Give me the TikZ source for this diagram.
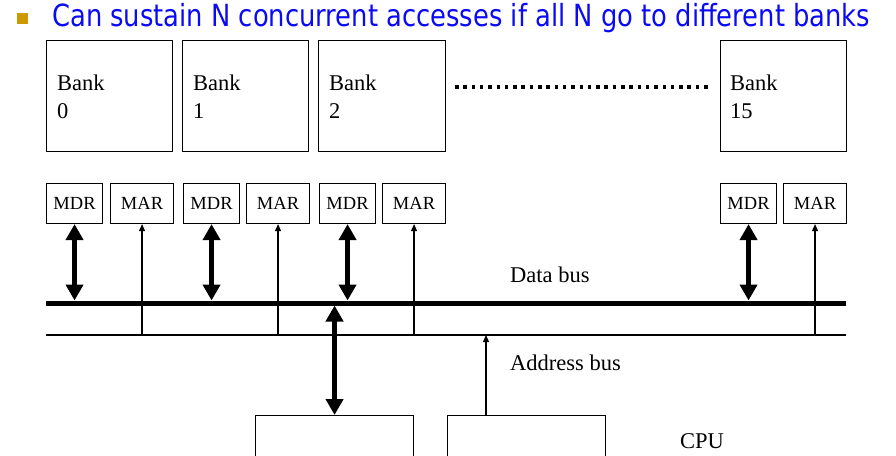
\documentclass[tikz,border=0pt]{standalone}
\usepackage{fontspec}
\usepackage{graphicx}
\setmainfont{Liberation Serif}
\newfontfamily\headfont{DejaVu Sans}
\usetikzlibrary{arrows.meta}
\definecolor{headblue}{RGB}{10,10,245}
\definecolor{bulletgold}{RGB}{204,153,0}
\begin{document}
\begin{tikzpicture}[x=1pt,y=-1pt,
  box/.style={draw=black, line width=1.1pt, inner sep=0pt, anchor=north west},
  bankbox/.style={box, minimum width=126pt, minimum height=111pt},
  regbox/.style={box, minimum height=40pt, font=\fontsize{18.5}{20}\selectfont},
  mdrbox/.style={regbox, minimum width=56pt},
  marbox/.style={regbox, minimum width=63pt},
  cpubox/.style={box, minimum width=158pt, minimum height=45pt},
  lbl/.style={inner sep=0pt, anchor=base west, font=\fontsize{22.5}{24}\selectfont},
  thickarr/.style={line width=5pt, {Triangle[length=16pt,width=17pt]}-{Triangle[length=16pt,width=17pt]}},
  thinarr/.style={line width=1.2pt, -{Triangle[length=7pt,width=6pt]}},
  busline/.style={line width=5pt},
  addrline/.style={line width=1.2pt}]
\useasboundingbox (0,0) rectangle (896,455);
\clip (0,0) rectangle (896,455);
% heading
\node[fill=bulletgold, minimum size=11pt, inner sep=0pt, anchor=north west] (bullet) at (17,13) {};
\node[inner sep=0pt, anchor=base west, text=headblue] (head) at (52,27)
  {\resizebox{818pt}{\height}{\headfont\fontsize{30.5}{32}\selectfont Can sustain N concurrent accesses if all N go to different banks}};
% banks
\node[bankbox] (bank0) at (46,40) {};
\node[bankbox] (bank1) at (182,40) {};
\node[bankbox, minimum width=127pt] (bank2) at (318,40) {};
\node[bankbox] (bank15) at (720,40) {};
\node[lbl] (b0a) at (57,90) {Bank};
\node[lbl] (b0b) at (57,118) {0};
\node[lbl] (b1a) at (193,90) {Bank};
\node[lbl] (b1b) at (193,118) {1};
\node[lbl] (b2a) at (329,90) {Bank};
\node[lbl] (b2b) at (329,118) {2};
\node[lbl] (b15a) at (730,90) {Bank};
\node[lbl] (b15b) at (730,118) {15};
\coordinate (dotsL) at (455,87);
\coordinate (dotsR) at (710,87);
\draw[line width=3.5pt, dash pattern=on 3.5pt off 4.8pt] (dotsL) -- (dotsR);
% registers
\node[mdrbox] (mdr0) at (46,183) {MDR};
\node[marbox] (mar0) at (110,183) {MAR};
\node[mdrbox] (mdr1) at (183,183) {MDR};
\node[marbox] (mar1) at (246,183) {MAR};
\node[mdrbox] (mdr2) at (319,183) {MDR};
\node[marbox] (mar2) at (382,183) {MAR};
\node[mdrbox] (mdr15) at (720,183) {MDR};
\node[marbox] (mar15) at (783,183) {MAR};
% buses
\coordinate (dbL) at (46,303);
\coordinate (dbR) at (846,303);
\coordinate (dbtop) at (0,300.5);
\coordinate (dbbot) at (0,305.5);
\coordinate (abL) at (46,335);
\coordinate (abR) at (846,335);
\draw[busline] (dbL) -- (dbR);
\draw[addrline] (abL) -- (abR);
\node[lbl] (dblabel) at (510,282) {Data bus};
\node[lbl] (ablabel) at (510,370) {Address bus};
% register connections
\foreach \r in {0,1,2,15}{
  \draw[thickarr] (mdr\r.south) -- (mdr\r.south |- dbtop);
  \draw[thinarr] (mar\r.south |- abL) -- (mar\r.south);
}
% CPU
\node[cpubox] (cpu1) at (255,415) {};
\node[cpubox] (cpu2) at (447,415) {};
\node[lbl] (cpulabel) at (680,448) {CPU};
\draw[thickarr] (cpu1.north) -- (cpu1.north |- dbbot);
\coordinate (cpuA) at ([xshift=39pt]cpu2.north west);
\draw[thinarr] (cpuA) -- (cpuA |- abL);
\end{tikzpicture}
\end{document}
